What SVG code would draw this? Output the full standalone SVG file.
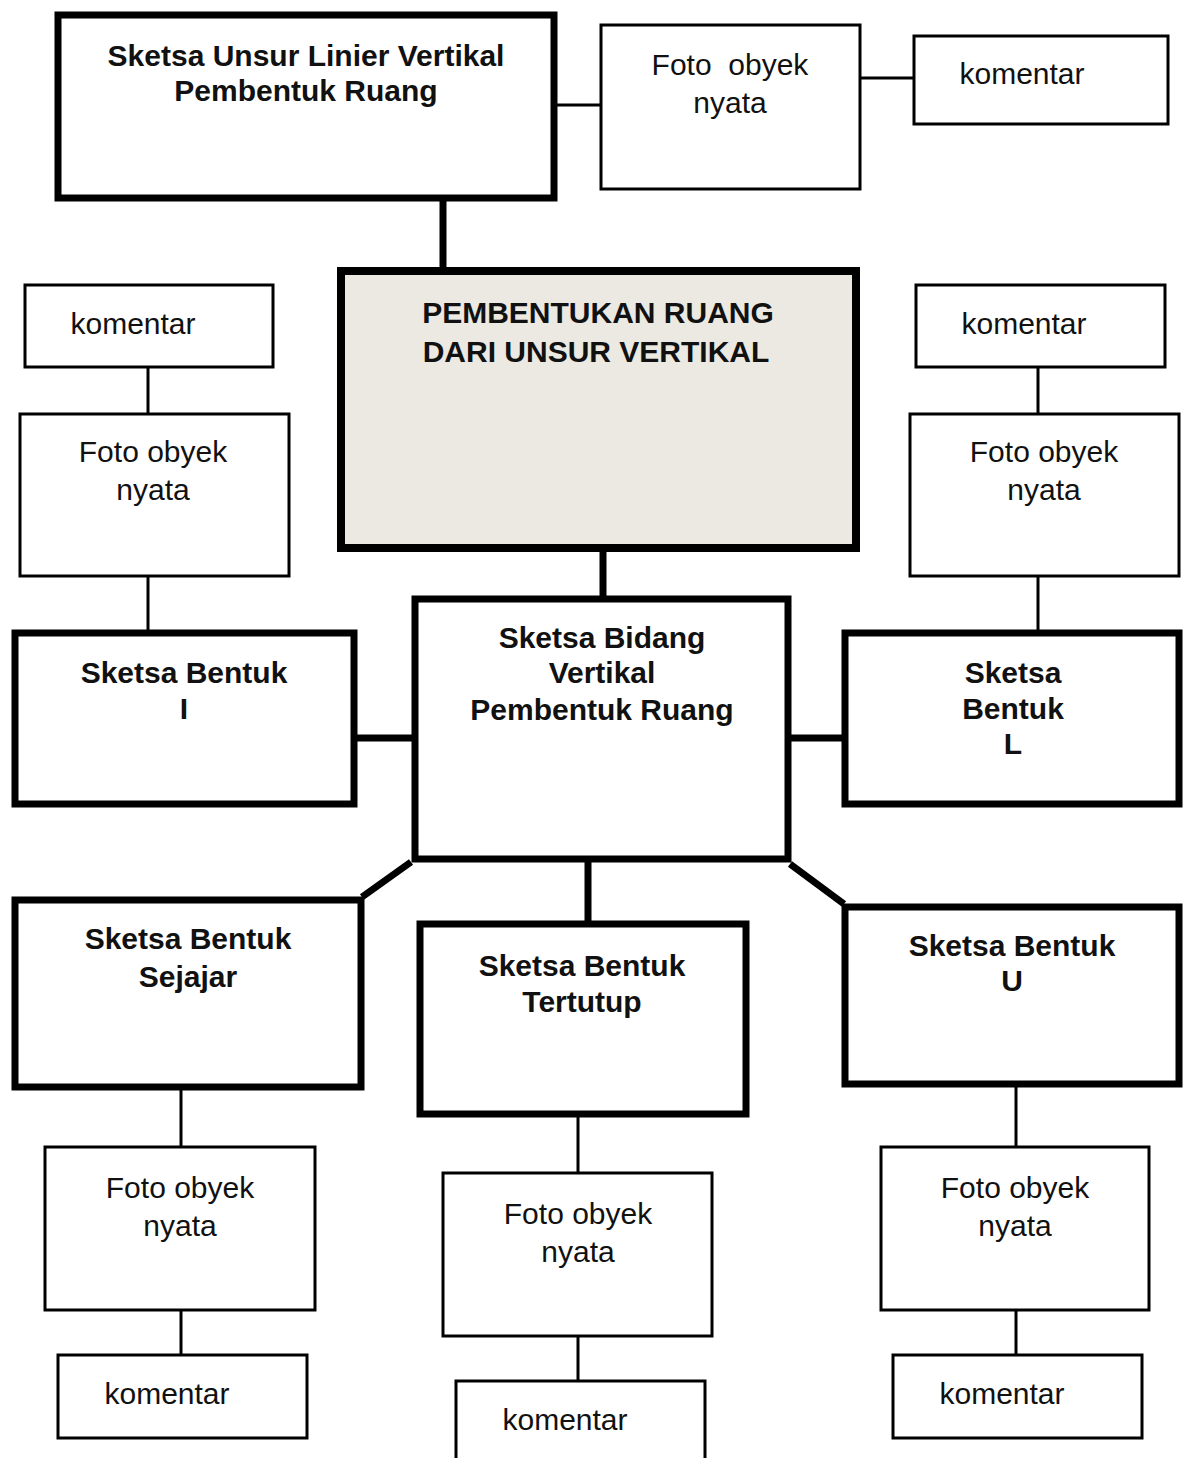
<svg xmlns="http://www.w3.org/2000/svg" width="1184" height="1458" viewBox="0 0 1184 1458">
<style>
.thick{fill:#fff;stroke:#000;stroke-width:7}
.thin{fill:#fff;stroke:#000;stroke-width:3}
.main{fill:#ebe9e2;stroke:#000;stroke-width:8}
.c1{stroke:#000;stroke-width:7;fill:none}
.c2{stroke:#000;stroke-width:3;fill:none}
text{font-family:"Liberation Sans",Arial,sans-serif;fill:#111;text-anchor:middle}
.b{font-weight:bold;font-size:30px}
.r{font-size:30px}
</style>
<rect width="1184" height="1458" fill="#fff"/>
<g id="connectors">
<line class="c2" x1="557" y1="105" x2="601" y2="105"/>
<line class="c2" x1="860" y1="78" x2="914" y2="78"/>
<line class="c1" x1="443" y1="200" x2="443" y2="270"/>
<line class="c1" x1="603" y1="548" x2="603" y2="597"/>
<line class="c2" x1="148" y1="367" x2="148" y2="414"/>
<line class="c2" x1="148" y1="576" x2="148" y2="631"/>
<line class="c1" x1="356" y1="738" x2="413" y2="738"/>
<line class="c2" x1="1038" y1="367" x2="1038" y2="414"/>
<line class="c2" x1="1038" y1="576" x2="1038" y2="631"/>
<line class="c1" x1="790" y1="738" x2="843" y2="738"/>
<line class="c1" x1="411" y1="862" x2="362" y2="897"/>
<line class="c1" x1="790" y1="864" x2="844" y2="904"/>
<line class="c1" x1="588" y1="860" x2="588" y2="922"/>
<line class="c2" x1="181" y1="1088" x2="181" y2="1147"/>
<line class="c2" x1="181" y1="1310" x2="181" y2="1355"/>
<line class="c2" x1="578" y1="1115" x2="578" y2="1173"/>
<line class="c2" x1="578" y1="1336" x2="578" y2="1381"/>
<line class="c2" x1="1016" y1="1085" x2="1016" y2="1147"/>
<line class="c2" x1="1016" y1="1310" x2="1016" y2="1355"/>
</g>
<g id="n-linier">
<rect class="thick" x="58" y="15" width="496" height="183"/>
<text class="b" x="306" y="66">Sketsa Unsur Linier Vertikal</text>
<text class="b" x="306" y="101">Pembentuk Ruang</text>
</g>
<g id="n-foto-top">
<rect class="thin" x="601" y="25" width="259" height="164"/>
<text class="r" x="730" y="75" xml:space="preserve">Foto  obyek</text>
<text class="r" x="730" y="113">nyata</text>
</g>
<g id="n-komentar-top">
<rect class="thin" x="914" y="36" width="254" height="88"/>
<text class="r" x="1022" y="84">komentar</text>
</g>
<g id="n-main">
<rect class="main" x="341" y="271" width="515" height="277"/>
<text class="b" x="598" y="323">PEMBENTUKAN RUANG</text>
<text class="b" x="596" y="362">DARI UNSUR VERTIKAL</text>
</g>
<g id="n-bidang">
<rect class="thick" x="415" y="599" width="373" height="260"/>
<text class="b" x="602" y="648">Sketsa Bidang</text>
<text class="b" x="602" y="683">Vertikal</text>
<text class="b" x="602" y="720">Pembentuk Ruang</text>
</g>
<g id="n-komentar-left">
<rect class="thin" x="25" y="285" width="248" height="82"/>
<text class="r" x="133" y="334">komentar</text>
</g>
<g id="n-foto-left">
<rect class="thin" x="20" y="414" width="269" height="162"/>
<text class="r" x="153" y="462">Foto obyek</text>
<text class="r" x="153" y="500">nyata</text>
</g>
<g id="n-bentuk-i">
<rect class="thick" x="15" y="633" width="339" height="171"/>
<text class="b" x="184" y="683">Sketsa Bentuk</text>
<text class="b" x="184" y="719">I</text>
</g>
<g id="n-komentar-right">
<rect class="thin" x="916" y="285" width="249" height="82"/>
<text class="r" x="1024" y="334">komentar</text>
</g>
<g id="n-foto-right">
<rect class="thin" x="910" y="414" width="269" height="162"/>
<text class="r" x="1044" y="462">Foto obyek</text>
<text class="r" x="1044" y="500">nyata</text>
</g>
<g id="n-bentuk-l">
<rect class="thick" x="845" y="633" width="334" height="171"/>
<text class="b" x="1013" y="683">Sketsa</text>
<text class="b" x="1013" y="719">Bentuk</text>
<text class="b" x="1013" y="754">L</text>
</g>
<g id="n-sejajar">
<rect class="thick" x="15" y="900" width="346" height="187"/>
<text class="b" x="188" y="949">Sketsa Bentuk</text>
<text class="b" x="188" y="987">Sejajar</text>
</g>
<g id="n-tertutup">
<rect class="thick" x="420" y="924" width="326" height="190"/>
<text class="b" x="582" y="976">Sketsa Bentuk</text>
<text class="b" x="582" y="1012">Tertutup</text>
</g>
<g id="n-bentuk-u">
<rect class="thick" x="845" y="907" width="334" height="177"/>
<text class="b" x="1012" y="956">Sketsa Bentuk</text>
<text class="b" x="1012" y="991">U</text>
</g>
<g id="n-foto-bl">
<rect class="thin" x="45" y="1147" width="270" height="163"/>
<text class="r" x="180" y="1198">Foto obyek</text>
<text class="r" x="180" y="1236">nyata</text>
</g>
<g id="n-komentar-bl">
<rect class="thin" x="58" y="1355" width="249" height="83"/>
<text class="r" x="167" y="1404">komentar</text>
</g>
<g id="n-foto-bm">
<rect class="thin" x="443" y="1173" width="269" height="163"/>
<text class="r" x="578" y="1224">Foto obyek</text>
<text class="r" x="578" y="1262">nyata</text>
</g>
<g id="n-komentar-bm">
<rect class="thin" x="456" y="1381" width="249" height="95"/>
<text class="r" x="565" y="1430">komentar</text>
</g>
<g id="n-foto-br">
<rect class="thin" x="881" y="1147" width="268" height="163"/>
<text class="r" x="1015" y="1198">Foto obyek</text>
<text class="r" x="1015" y="1236">nyata</text>
</g>
<g id="n-komentar-br">
<rect class="thin" x="893" y="1355" width="249" height="83"/>
<text class="r" x="1002" y="1404">komentar</text>
</g>
</svg>
